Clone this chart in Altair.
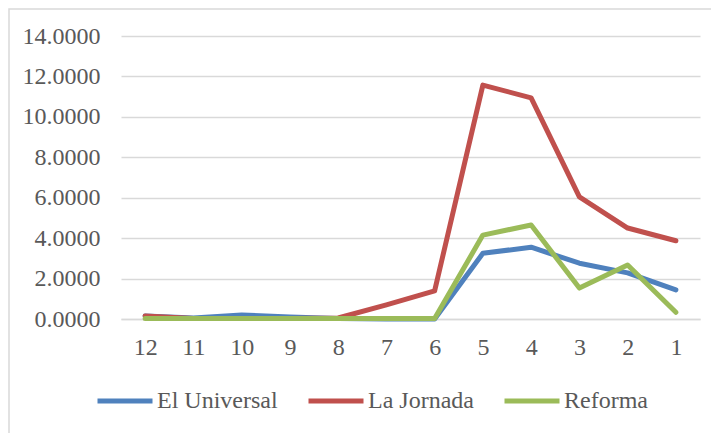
import altair as alt
import pandas as pd

categories = ["12", "11", "10", "9", "8", "7", "6", "5", "4", "3", "2", "1"]
el_universal = [0.15, 0.05, 0.20, 0.10, 0.02, 0.0, 0.0, 3.25, 3.55, 2.76, 2.28, 1.44]
la_jornada = [0.15, 0.02, 0.02, 0.02, 0.05, 0.70, 1.39, 11.57, 10.94, 6.04, 4.50, 3.87]
reforma = [0.02, 0.02, 0.02, 0.02, 0.02, 0.02, 0.02, 4.15, 4.65, 1.53, 2.67, 0.33]
series_names = ["El Universal", "La Jornada", "Reforma"]
series_colors = ["#4f81bd", "#c0504d", "#9bbb59"]
y_ticks = [0, 2, 4, 6, 8, 10, 12, 14]

rows = []
for name, vals in zip(series_names, [el_universal, la_jornada, reforma]):
    for i, (c, v) in enumerate(zip(categories, vals)):
        rows.append({"cat": c, "value": v, "serie": name, "order": i})
df = pd.DataFrame(rows)

FONT = "Liberation Serif"
GREY = "#595959"
FS = 24

lines = alt.Chart(df).mark_line(
    strokeWidth=5, strokeJoin="round", strokeCap="round"
).encode(
    x=alt.X("cat:O", sort=categories, title=None,
            axis=alt.Axis(labelAngle=0, ticks=False, domain=True, domainColor="#d9d9d9",
                          domainWidth=1.3, labelPadding=16, labelFontSize=FS,
                          labelFont=FONT, labelColor=GREY, grid=False)),
    y=alt.Y("value:Q", title=None,
            scale=alt.Scale(domain=[0, 14], nice=False),
            axis=alt.Axis(values=y_ticks, format=".4f", ticks=False, domain=False,
                          gridColor="#d9d9d9", gridWidth=1.3, labelPadding=21,
                          labelFontSize=FS, labelFont=FONT, labelColor=GREY)),
    color=alt.Color("serie:N", sort=series_names,
                    scale=alt.Scale(domain=series_names, range=series_colors),
                    legend=alt.Legend(title=None, orient="none", direction="horizontal",
                                      legendX=-26, legendY=335,
                                      symbolType="stroke", symbolSize=3025,
                                      symbolStrokeWidth=5, labelFontSize=FS,
                                      labelFont=FONT, labelColor=GREY,
                                      columnPadding=20, labelOffset=2)),
    order="order:Q",
)

border = alt.Chart(pd.DataFrame({"a": [0]})).mark_rect(
    fill=None, stroke="#d9d9d9", strokeWidth=1.5
).encode(
    x=alt.value(-112), x2=alt.value(700), y=alt.value(-27), y2=alt.value(500)
)

chart = alt.layer(border, lines).properties(
    width=579, height=283,
    padding={"left": 113, "top": 28, "right": 11, "bottom": 114},
    autosize=alt.AutoSizeParams(type="none"),
).configure_view(stroke=None)

chart.save("out.html", embed_options={"renderer": "svg", "actions": False})
